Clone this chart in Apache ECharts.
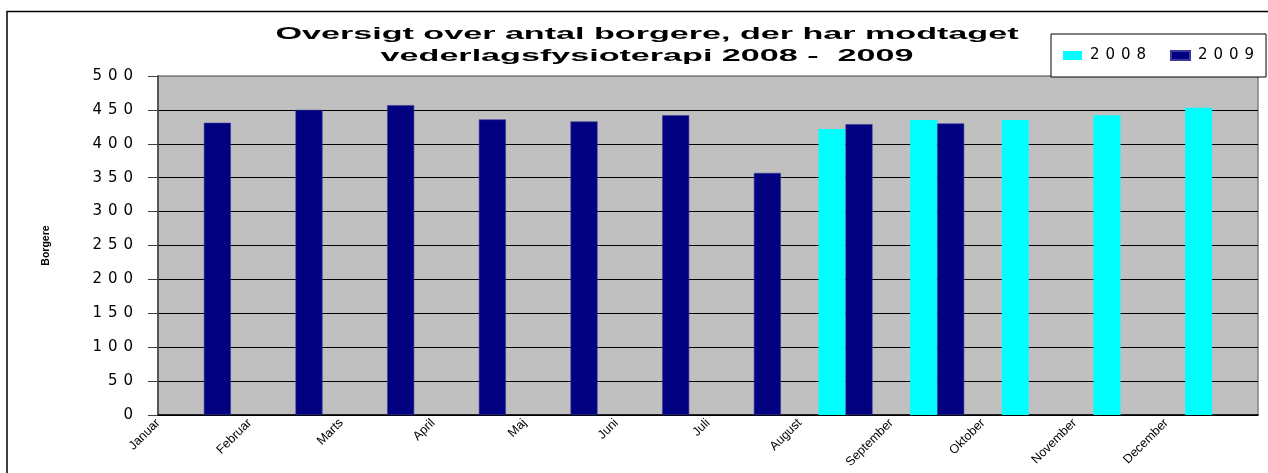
<!DOCTYPE html>
<html>
<head>
<meta charset="utf-8">
<script src="https://cdn.jsdelivr.net/npm/echarts@6/dist/echarts.min.js"></script>
<style>
  html, body { margin: 0; padding: 0; background: #fff; }
  #chart { width: 1268px; height: 473px; }
</style>
</head>
<body>
<div id="chart"></div>
<script>
// data
const months = ['Januar', 'Februar', 'Marts', 'April', 'Maj', 'Juni', 'Juli', 'August', 'September', 'Oktober', 'November', 'December']
const seriesNames = ['2008', '2009']
const values2008 = [null, null, null, null, null, null, null, 422, 435, 435, 442, 453]
const values2009 = [431, 450, 457, 436, 433, 442, 357, 429, 430, null, null, null]
const yMin = 0
const yMax = 500
const yStep = 50

const titleLines = ['Oversigt over antal borgere, der har modtaget', 'vederlagsfysioterapi 2008 -  2009']

// the old chart draws its digits very wide, so space them out
function spread (v) {
    return String(v).split('').map(c => '{d|' + c + '}').join('')
}
const digitRich = {
    d: { width: 15.5, align: 'center', fontSize: 15, fontFamily: 'DejaVu Sans', color: '#000' }
}

// title font is stretched horizontally, measure and scale it
const titleFont = 'bold 16px "Liberation Sans"'
const ctx = document.createElement('canvas').getContext('2d')
ctx.font = titleFont
const titleScale = 743 / ctx.measureText(titleLines[0]).width

// split line colours: top one is the grey plot border
const splitColors = []
for (let v = yMin; v <= yMax; v += yStep) {
    splitColors.push(v === yMax ? '#808080' : '#000')
}

const chart = echarts.init(document.getElementById('chart'))
const option = {
    backgroundColor: '#fff',
    animation: false,
    grid: {
        left: 158,
        right: 10,
        top: 76,
        bottom: 58,
        show: true,
        backgroundColor: '#C0C0C0',
        borderColor: '#808080',
        borderWidth: 1.5
    },
    legend: {
        data: seriesNames,
        left: 1051,
        top: 34,
        orient: 'horizontal',
        icon: 'rect',
        itemWidth: 19,
        itemHeight: 9,
        itemGap: 24,
        padding: [14, 12, 14, 12],
        backgroundColor: '#fff',
        borderColor: '#000',
        borderWidth: 1,
        borderRadius: 0,
        formatter: name => spread(name),
        textStyle: { rich: digitRich }
    },
    xAxis: [
        {
            // bars axis, labels drawn by the second axis
            type: 'category',
            data: months,
            axisLine: { lineStyle: { color: '#000', width: 1.5 } },
            axisTick: { length: 5, lineStyle: { color: '#000' } },
            axisLabel: { show: false },
            splitLine: { show: false }
        },
        {
            // label axis: month names sit on the category boundaries
            type: 'category',
            position: 'bottom',
            boundaryGap: false,
            data: months.concat(['']),
            axisLine: { show: false },
            axisTick: { show: false },
            splitLine: { show: false },
            axisLabel: {
                interval: 0,
                rotate: 45,
                margin: 6,
                fontSize: 12.5,
                fontFamily: 'Liberation Sans',
                color: '#000'
            }
        }
    ],
    yAxis: {
        type: 'value',
        min: yMin,
        max: yMax,
        interval: yStep,
        name: 'Borgere',
        nameLocation: 'middle',
        nameRotate: 90,
        nameGap: 106,
        nameTextStyle: { fontSize: 10.5, fontWeight: 'bold', fontFamily: 'Liberation Sans', color: '#000' },
        axisLine: { show: true, lineStyle: { color: '#404040', width: 1.5 } },
        axisTick: { show: true, length: 10, lineStyle: { color: '#404040' } },
        axisLabel: {
            margin: 22,
            formatter: v => spread(v),
            rich: digitRich
        },
        splitLine: { lineStyle: { color: splitColors, width: 1 } }
    },
    series: [
        {
            name: '2008',
            type: 'bar',
            data: values2008,
            barGap: '0%',
            barCategoryGap: '41%',
            itemStyle: { color: '#00FFFF' }
        },
        {
            name: '2009',
            type: 'bar',
            data: values2009,
            barGap: '0%',
            barCategoryGap: '41%',
            itemStyle: { color: '#000080', borderColor: '#3a3a9a', borderWidth: 0.6 }
        }
    ],
    graphic: [
        {
            type: 'rect',
            shape: { x: 7, y: 11.5, width: 1400, height: 600 },
            style: { fill: 'transparent', stroke: '#000', lineWidth: 1.5 },
            silent: true
        },
        {
            type: 'text',
            x: 647,
            y: 35,
            scaleX: titleScale,
            style: { text: titleLines[0], font: titleFont, fill: '#000', align: 'center', verticalAlign: 'middle' }
        },
        {
            type: 'text',
            x: 647,
            y: 56.5,
            scaleX: titleScale,
            style: { text: titleLines[1], font: titleFont, fill: '#000', align: 'center', verticalAlign: 'middle' }
        }
    ]
}
chart.setOption(option)
</script>
</body>
</html>
